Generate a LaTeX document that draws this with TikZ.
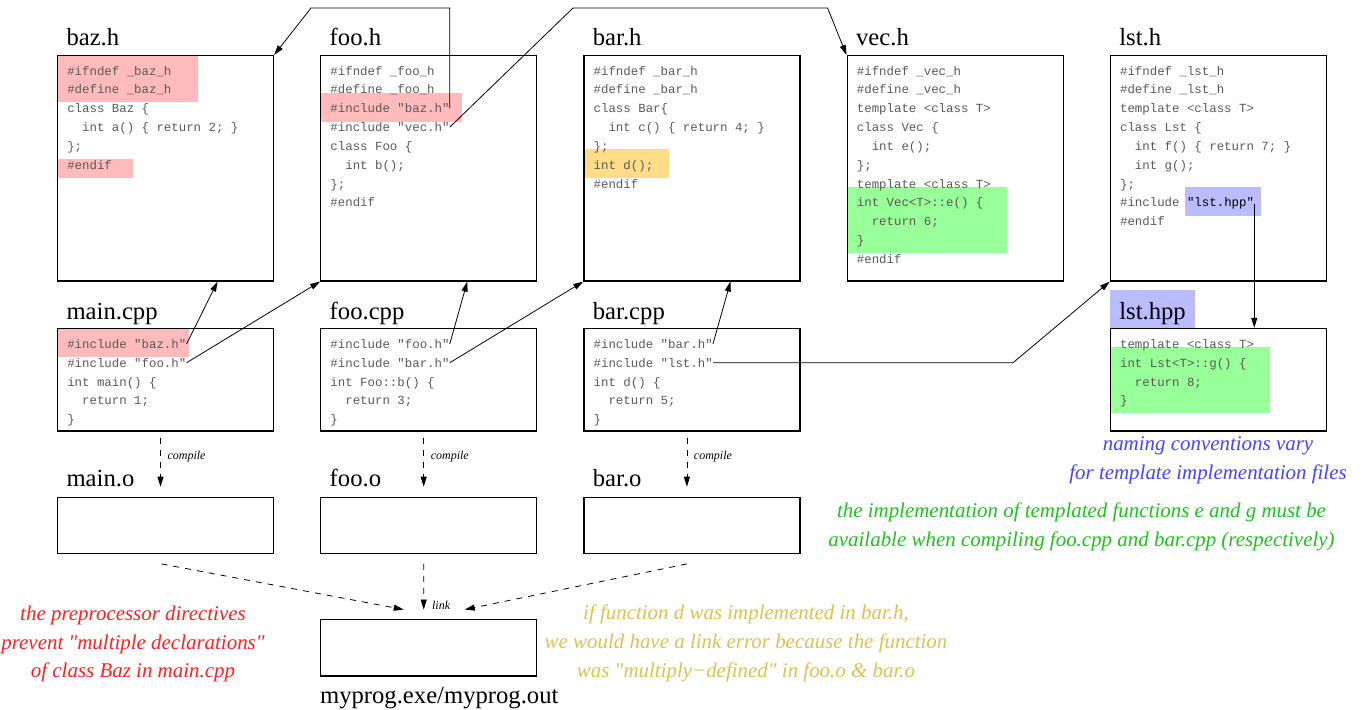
\documentclass[tikz,border=0pt]{standalone}
\usepackage{fontspec}
\setmainfont{Liberation Serif}
\newfontfamily\codefont{Liberation Mono}
\usetikzlibrary{arrows.meta,positioning}

\definecolor{codegray}{HTML}{595959}
\definecolor{hlred}{HTML}{FFBBBB}
\definecolor{hlorange}{HTML}{FFDD88}
\definecolor{hlgreen}{HTML}{99FF99}
\definecolor{hlblue}{HTML}{BBBBFF}
\definecolor{notered}{HTML}{FF2020}
\definecolor{notegold}{HTML}{E0C050}
\definecolor{notegreen}{HTML}{20C020}
\definecolor{noteblue}{HTML}{4444FF}
\newcommand\codeindent{\hspace*{1.2em}}

\begin{document}
\begin{tikzpicture}[
  x=0.75pt, y=-0.75pt,
  filebox/.style={draw, line width=0.9pt, minimum width=162pt, inner sep=0pt},
  codeline/.style={anchor=base west, inner sep=0pt, text=codegray, font=\codefont\fontsize{9.3}{11}\selectfont},
  ftitle/.style={anchor=base west, inner sep=0pt, font=\fontsize{18.5}{20}\selectfont},
  note/.style={align=center, font=\itshape\fontsize{15.7}{21.6}\selectfont},
  tag/.style={inner sep=1pt, font=\itshape\fontsize{9}{10}\selectfont},
  arrow/.style={-{Triangle[length=7.5pt,width=4.5pt]}, line width=0.6pt},
  dasharrow/.style={arrow, dash pattern=on 4.5pt off 4.5pt}
]
\useasboundingbox (0,0) rectangle (1367,710);

% highlights
\fill[hlred] (57.5,55.7) rectangle (197.5,101.7);
\fill[hlred] (57.5,159) rectangle (133,177.7);
\fill[hlred] (320.4,93.3) rectangle (461.8,121.7);
\fill[hlorange] (583.7,149) rectangle (669,177.7);
\fill[hlgreen] (846.7,187) rectangle (1007,252.7);
\fill[hlblue] (1184.8,187) rectangle (1261,215.7);
\fill[hlred] (57.5,328.3) rectangle (189.3,356.7);
\fill[hlblue] (1110,290) rectangle (1195,328);
\fill[hlgreen] (1110,346.7) rectangle (1270,412.7);

% headers
\node[filebox, minimum height=169pt] (bazh) at (165.5,168.3) {};
\node[filebox, minimum height=169pt] (fooh) at (428.7,168.3) {};
\node[filebox, minimum height=169pt] (barh) at (691.9,168.3) {};
\node[filebox, minimum height=169pt] (vech) at (955.1,168.3) {};
\node[filebox, minimum height=169pt] (lsth) at (1218.3,168.3) {};
% sources
\node[filebox, minimum height=77pt] (maincpp) at (165.5,379.7) {};
\node[filebox, minimum height=77pt] (foocpp) at (428.7,379.7) {};
\node[filebox, minimum height=77pt] (barcpp) at (691.9,379.7) {};
\node[filebox, minimum height=77pt] (lsthpp) at (1218.3,379.7) {};
% objects
\node[filebox, minimum height=42.3pt] (maino) at (165.5,525.5) {};
\node[filebox, minimum height=42.3pt] (fooo) at (428.7,525.5) {};
\node[filebox, minimum height=42.3pt] (baro) at (691.9,525.5) {};
\node[filebox, minimum height=42.3pt] (myprog) at (428.4,647.7) {};

% titles
\node[ftitle] (bazh-t) at ([xshift=7pt, yshift=7.5pt]bazh.north west) {baz.h};
\node[ftitle] (fooh-t) at ([xshift=7pt, yshift=7.5pt]fooh.north west) {foo.h};
\node[ftitle] (barh-t) at ([xshift=7pt, yshift=7.5pt]barh.north west) {bar.h};
\node[ftitle] (vech-t) at ([xshift=7pt, yshift=7.5pt]vech.north west) {vec.h};
\node[ftitle] (lsth-t) at ([xshift=7pt, yshift=7.5pt]lsth.north west) {lst.h};
\node[ftitle] (maincpp-t) at ([xshift=7pt, yshift=6pt]maincpp.north west) {main.cpp};
\node[ftitle] (foocpp-t) at ([xshift=7pt, yshift=6pt]foocpp.north west) {foo.cpp};
\node[ftitle] (barcpp-t) at ([xshift=7pt, yshift=6pt]barcpp.north west) {bar.cpp};
\node[ftitle] (lsthpp-t) at ([xshift=7pt, yshift=6pt]lsthpp.north west) {lst.hpp};
\node[ftitle] (maino-t) at ([xshift=7pt, yshift=8pt]maino.north west) {main.o};
\node[ftitle] (fooo-t) at ([xshift=7pt, yshift=8pt]fooo.north west) {foo.o};
\node[ftitle] (baro-t) at ([xshift=7pt, yshift=8pt]baro.north west) {bar.o};
\node[ftitle] (myprog-t) at ([yshift=-20pt]myprog.south west) {myprog.exe/myprog.out};

% code
\foreach \codetxt [count=\i from 0] in {\#ifndef \_baz\_h, \#define \_baz\_h, class Baz \{,
  \codeindent int a() \{ return 2; \}, \};, \#endif}
  \node[codeline] (bazh-\i) at (67,75+18.85*\i) {\codetxt};
\foreach \codetxt [count=\i from 0] in {\#ifndef \_foo\_h, \#define \_foo\_h, \#include "baz.h",
  \#include "vec.h", class Foo \{, \codeindent int b();, \};, \#endif}
  \node[codeline] (fooh-\i) at (330.2,75+18.85*\i) {\codetxt};
\foreach \codetxt [count=\i from 0] in {\#ifndef \_bar\_h, \#define \_bar\_h, class Bar\{,
  \codeindent int c() \{ return 4; \}, \};, int d();, \#endif}
  \node[codeline] (barh-\i) at (593.4,75+18.85*\i) {\codetxt};
\foreach \codetxt [count=\i from 0] in {\#ifndef \_vec\_h, \#define \_vec\_h, template <class T>,
  class Vec \{, \codeindent int e();, \};, template <class T>, int Vec<T>::e() \{,
  \codeindent return 6;, \}, \#endif}
  \node[codeline] (vech-\i) at (856.6,75+18.85*\i) {\codetxt};
\foreach \codetxt [count=\i from 0] in {\#ifndef \_lst\_h, \#define \_lst\_h, template <class T>,
  class Lst \{, \codeindent int f() \{ return 7; \}, \codeindent int g();, \};,
  \#include \textcolor{black}{"lst.hpp"}, \#endif}
  \node[codeline] (lsth-\i) at (1119.8,75+18.85*\i) {\codetxt};
\foreach \codetxt [count=\i from 0] in {\#include "baz.h", \#include "foo.h", int main() \{,
  \codeindent return 1;, \}}
  \node[codeline] (maincpp-\i) at (67,348.3+18.85*\i) {\codetxt};
\foreach \codetxt [count=\i from 0] in {\#include "foo.h", \#include "bar.h", int Foo::b() \{,
  \codeindent return 3;, \}}
  \node[codeline] (foocpp-\i) at (330.2,348.3+18.85*\i) {\codetxt};
\foreach \codetxt [count=\i from 0] in {\#include "bar.h", \#include "lst.h", int d() \{,
  \codeindent return 5;, \}}
  \node[codeline] (barcpp-\i) at (593.4,348.3+18.85*\i) {\codetxt};
\foreach \codetxt [count=\i from 0] in {template <class T>, int Lst<T>::g() \{,
  \codeindent return 8;, \}}
  \node[codeline] (lsthpp-\i) at (1119.8,348.3+18.85*\i) {\codetxt};

% includes
\draw[arrow] (fooh-2.east) |- (311,8) -- (bazh.north east);
\draw[arrow] (fooh-3.east) -- (573,8) -- (827.6,8) -- (vech.north west);
\draw[arrow] (maincpp-0.east) -- ([xshift=-42.4pt]bazh.south east);
\draw[arrow] (maincpp-1.east) -- (fooh.south west);
\draw[arrow] (foocpp-0.east) -- ([xshift=-52.5pt]fooh.south east);
\draw[arrow] (foocpp-1.east) -- (barh.south west);
\draw[arrow] (barcpp-0.east) -- ([xshift=-52.5pt]barh.south east);
\draw[arrow] (barcpp-1.east) -- ++(300,0) -- (lsth.south west);
\draw[arrow] (lsth-7.east) -- (lsth-7.east |- lsthpp.north);

% compile
\draw[dasharrow] ([xshift=-3.75pt, yshift=-4.5pt]maincpp.south) -- ([xshift=-3.75pt, yshift=7.5pt]maino.north)
  node[tag, pos=0.38, right=4pt] {compile};
\draw[dasharrow] ([xshift=-3.75pt, yshift=-4.5pt]foocpp.south) -- ([xshift=-3.75pt, yshift=7.5pt]fooo.north)
  node[tag, pos=0.38, right=4pt] {compile};
\draw[dasharrow] ([xshift=-3.75pt, yshift=-4.5pt]barcpp.south) -- ([xshift=-3.75pt, yshift=7.5pt]baro.north)
  node[tag, pos=0.38, right=4pt] {compile};

% link
\coordinate (linkin) at ([xshift=-3.5pt, yshift=7pt]myprog.north);
\draw[dasharrow] ([xshift=-3pt, yshift=-7.2pt]maino.south) -- ([xshift=-15pt]linkin);
\draw[dasharrow] ([xshift=-3.75pt, yshift=-7.2pt]fooo.south) -- (linkin)
  node[tag, pos=0.9, right=5pt] {link};
\draw[dasharrow] ([xshift=-3.75pt, yshift=-7.2pt]baro.south) -- ([xshift=30.75pt]linkin);

% notes
\node[note, text=notered] (preproc) at (133,644) {the preprocessor directives\\prevent \textquotedbl multiple declarations\textquotedbl\\of class Baz in main.cpp};
\node[note, text=notegold] (linkerr) at (746,643.5) {if function d was implemented in bar.h,\\we would have a link error because the function\\was \textquotedbl multiply−defined\textquotedbl{} in foo.o \& bar.o};
\node[note, text=notegreen] (tmplimpl) at (1081.5,526.5) {the implementation of templated functions e and g must be\\available when compiling foo.cpp and bar.cpp (respectively)};
\node[note, text=noteblue] (naming) at (1208,460.5) {naming conventions vary\\for template implementation files};
\end{tikzpicture}
\end{document}
